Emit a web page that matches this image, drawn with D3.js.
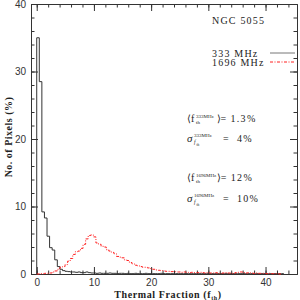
<!DOCTYPE html>
<html>
<head>
<meta charset="utf-8">
<script src="https://cdn.jsdelivr.net/npm/d3@7"></script>
<style>
  body { margin: 0; background: #fff; }
  svg { display: block; }
  .lbl { font-family: "Liberation Serif", serif; fill: #222; }
  .tick text { font-family: "Liberation Sans", sans-serif; font-size: 10px; fill: #333; }
</style>
</head>
<body>
<div id="chart"></div>
<script>
// histogram bins (width in thermal fraction %)
const binWidth = 0.45;
const hist333 = [35, 28.5, 9.2, 8.3, 5.6, 3.9, 3.55, 2.1, 1.1, 0.7,
  0.5, 0.4, 0.35, 0.3, 0.3, 0.25, 0.3, 0.2, 0.2, 0.3,
  0.2, 0.15, 0.15, 0.1, 0.15, 0.1, 0.1, 0.1, 0.15, 0.1,
  0.1, 0.05, 0.1, 0.1, 0.05, 0.1, 0.05, 0.05, 0.1, 0.05,
  0.05, 0.05, 0.1, 0.05, 0.05, 0.05, 0.05, 0.05, 0.1, 0.05,
  0.05, 0.05, 0.05, 0.05, 0.05, 0.05, 0.05, 0.05, 0.05, 0.05,
  0.05, 0.05, 0.05, 0.05, 0.05, 0.05, 0.05, 0.05, 0.05, 0.05,
  0.05, 0.05, 0.05, 0.05, 0.05, 0.05, 0.05, 0.05, 0.05, 0.05,
  0.05, 0.05, 0.05, 0.05, 0.05, 0.05, 0.05, 0.05, 0.05, 0.05,
  0.05, 0.05, 0.05, 0.05, 0.05, 0.05];
const hist1696 = [0, 0.05, 0.05, 0.1, 0.1, 0.15, 0.3, 0.45, 0.7, 1.0,
  1.1, 1.4, 1.9, 2.3, 2.9, 3.3, 3.4, 3.8, 4.4, 5.2,
  5.7, 5.8, 5.5, 4.6, 4.4, 4.1, 4.0, 3.6, 3.4, 3.2,
  3.0, 2.6, 2.5, 2.4, 2.1, 2.0, 1.7, 1.5, 1.3, 1.2,
  1.1, 1.0, 1.0, 0.9, 0.8, 0.7, 0.6, 0.55, 0.5, 0.45,
  0.4, 0.4, 0.35, 0.35, 0.3, 0.3, 0.25, 0.3, 0.25, 0.2,
  0.25, 0.2, 0.2, 0.25, 0.2, 0.15, 0.2, 0.15, 0.15, 0.2,
  0.15, 0.1, 0.15, 0.2, 0.15, 0.15, 0.1, 0.2, 0.25, 0.3,
  0.2, 0.15, 0.2, 0.15, 0.1, 0.15, 0.1, 0.1, 0.1, 0.05,
  0.1, 0.05, 0.05, 0.05, 0.0];
const xMajor = [0, 10, 20, 30, 40];
const yMajor = [0, 10, 20, 30, 40];
const seriesNames = ["333 MHz", "1696 MHz"];

const W = 300, H = 300;
const margin = {top: 4, right: 3, bottom: 26, left: 31};

const svg = d3.select('#chart').append('svg')
  .attr('width', W).attr('height', H);

const x = d3.scaleLinear().domain([-1, 45.5]).range([margin.left, W - margin.right]);
const y = d3.scaleLinear().domain([0, 40]).range([H - margin.bottom, margin.top]);

const xMinor = d3.range(0, 45.5, 2);
const yMinor = d3.range(0, 40.1, 2);

// minor ticks first, then major with labels
function addAxis(mk, transform, major, minor, labels) {
  svg.append('g').attr('transform', transform)
    .call(mk().tickValues(minor).tickSize(-3.5).tickFormat(''))
    .call(g => g.select('.domain').remove())
    .selectAll('line').attr('stroke', '#333');
  let g = svg.append('g').attr('transform', transform)
    .call(mk().tickValues(major).tickSize(-7).tickPadding(labels ? 5 : 0)
      .tickFormat(labels ? d3.format('d') : ''));
  g.select('.domain').attr('stroke', '#333');
  g.selectAll('line').attr('stroke', '#333');
  return g;
}
addAxis(() => d3.axisBottom(x), `translate(0,${H - margin.bottom})`, xMajor, xMinor, true);
addAxis(() => d3.axisTop(x), `translate(0,${margin.top})`, xMajor, xMinor, false);
addAxis(() => d3.axisLeft(y), `translate(${margin.left},0)`, yMajor, yMinor, true);
addAxis(() => d3.axisRight(y), `translate(${W - margin.right},0)`, yMajor, yMinor, false);

// step histograms
function stepPts(vals) {
  const pts = [[0, 0]];
  vals.forEach((v, i) => pts.push([i * binWidth, v]));
  pts.push([vals.length * binWidth, vals[vals.length - 1]]);
  return pts;
}
const line = d3.line().x(d => x(d[0])).y(d => y(d[1])).curve(d3.curveStepAfter);

svg.append('path').datum(stepPts(hist333))
  .attr('d', line).attr('fill', 'none')
  .attr('stroke', '#333').attr('stroke-width', 1);

svg.append('path').datum(stepPts(hist1696))
  .attr('d', line).attr('fill', 'none')
  .attr('stroke', '#ff2020').attr('stroke-width', 1)
  .attr('stroke-dasharray', '3,1.5,1,1.5');

// legend + labels
svg.append('text').attr('class', 'lbl').attr('x', 212).attr('y', 24)
  .attr('font-size', 10).attr('letter-spacing', 1.2).text('NGC 5055');

svg.append('text').attr('class', 'lbl').attr('x', 212).attr('y', 56.5)
  .attr('font-size', 10).attr('letter-spacing', 1.2).text(seriesNames[0]);
svg.append('line').attr('x1', 270).attr('x2', 295).attr('y1', 53).attr('y2', 53)
  .attr('stroke', '#777').attr('stroke-width', 1);
svg.append('text').attr('class', 'lbl').attr('x', 212).attr('y', 66)
  .attr('font-size', 10).attr('letter-spacing', 1.2).text(seriesNames[1]);
svg.append('line').attr('x1', 270).attr('x2', 295).attr('y1', 62).attr('y2', 62)
  .attr('stroke', '#ff2020').attr('stroke-width', 1)
  .attr('stroke-dasharray', '3,1.5,1,1.5');

// mean / sigma annotations
function meanLabel(yc, freq, val) {
  const g = svg.append('g');
  g.append('text').attr('class', 'lbl').attr('x', 187).attr('y', yc + 3.5)
    .attr('font-size', 10).text('⟨f');
  const sup = g.append('text').attr('class', 'lbl').attr('x', 196).attr('y', yc - 0.5)
    .attr('font-size', 5).text(freq);
  g.append('text').attr('class', 'lbl').attr('x', 196).attr('y', yc + 6)
    .attr('font-size', 5).text('th');
  const endX = Math.max(216.5, 196.5 + sup.node().getComputedTextLength());
  g.append('text').attr('class', 'lbl').attr('x', endX).attr('y', yc + 3.5)
    .attr('font-size', 10).text('⟩=');
  g.append('text').attr('class', 'lbl').attr('x', endX + 14).attr('y', yc + 3.5)
    .attr('font-size', 10).attr('letter-spacing', 1.3).text(val);
}
function sigmaLabel(yc, freq, val) {
  const g = svg.append('g');
  g.append('text').attr('class', 'lbl').attr('x', 187).attr('y', yc + 3.5)
    .attr('font-size', 11).attr('font-style', 'italic').text('σ');
  g.append('text').attr('class', 'lbl').attr('x', 194).attr('y', yc - 1.5)
    .attr('font-size', 5).text(freq);
  g.append('text').attr('class', 'lbl').attr('x', 194).attr('y', yc + 5.5)
    .attr('font-size', 5.5).attr('font-style', 'italic').text('f');
  g.append('text').attr('class', 'lbl').attr('x', 196.5).attr('y', yc + 7.5)
    .attr('font-size', 3.5).text('th');
  g.append('text').attr('class', 'lbl').attr('x', 223).attr('y', yc + 3.5)
    .attr('font-size', 10).text('=');
  g.append('text').attr('class', 'lbl').attr('x', 237).attr('y', yc + 3.5)
    .attr('font-size', 10).attr('letter-spacing', 1.3).text(val);
}
meanLabel(118, '333MHz', '1.3%');
sigmaLabel(138, '333MHz', '4%');
meanLabel(177, '1696MHz', '12%');
sigmaLabel(198, '1696MHz', '10%');

// axis titles
const xt = svg.append('text').attr('class', 'lbl').attr('font-weight', 'bold')
  .attr('font-size', 10).attr('letter-spacing', 0.6)
  .attr('x', 168).attr('y', 298).attr('text-anchor', 'middle');
xt.append('tspan').text('Thermal Fraction (f');
xt.append('tspan').attr('font-size', 6).attr('dy', 2).text('th');
xt.append('tspan').attr('dy', -2).text(')');

svg.append('text').attr('class', 'lbl').attr('font-weight', 'bold')
  .attr('font-size', 10).attr('letter-spacing', 0.5)
  .attr('text-anchor', 'middle')
  .attr('transform', 'translate(12,137) rotate(-90)')
  .text('No. of Pixels (%)');
</script>
</body>
</html>
